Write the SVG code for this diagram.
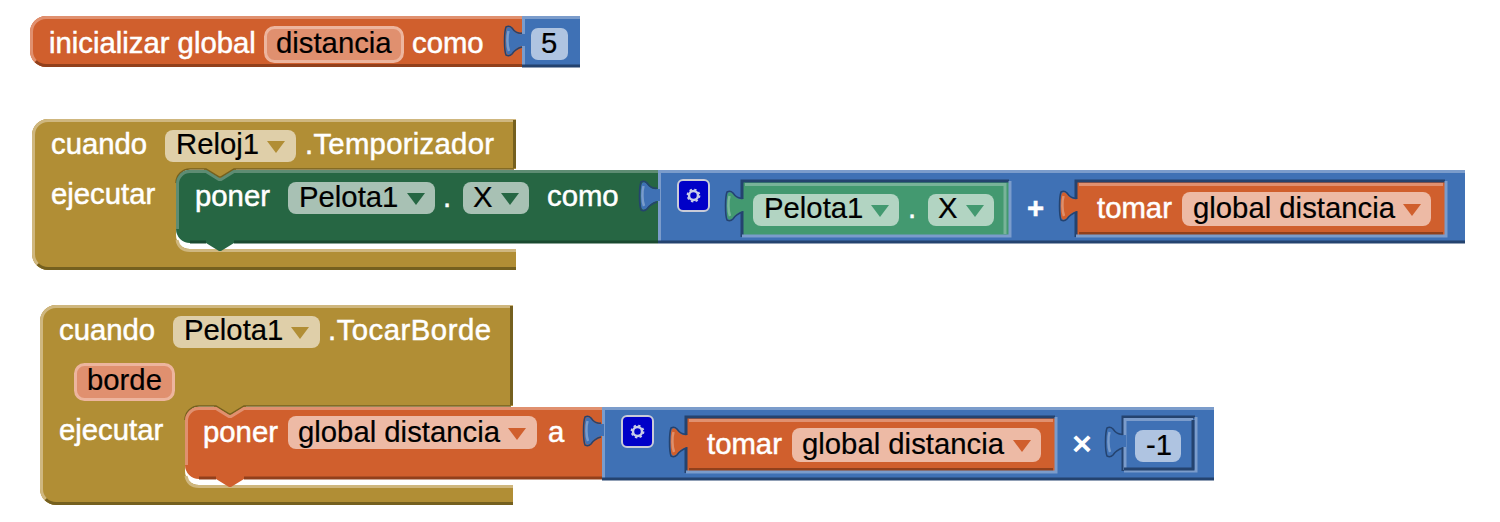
<svg xmlns="http://www.w3.org/2000/svg" xmlns:xlink="http://www.w3.org/1999/xlink" width="1500" height="522" viewBox="0 0 1500 522">
<style>
text{font-family:"Liberation Sans",Arial,sans-serif;font-size:29.3px}
.w{fill:#fff;stroke:#fff;stroke-width:.5}.k{fill:#000;stroke:#000;stroke-width:.2}
.hl{fill:none;stroke-width:3}
.o{fill:#D05F2D}.ol{stroke:#E0906F}.od{stroke:#91401C}
.b{fill:#3F71B5}.bl{stroke:#7B9CCB}.bd{stroke:#24436F}
.g{fill:#B18E35}.gl{stroke:#CFB77F}.gd{stroke:#75601F}
.n{fill:#266643}.nl{stroke:#5E8C73}.nd{stroke:#1A4A30}
.m{fill:#439970}.ml{stroke:#78B399}.md{stroke:#2A6A4B}
.fo{fill:#EDBAA5}.fn{fill:#A8C1B4}.fm{fill:#B2D4C2}.fg{fill:#DFCFA9}.fb{fill:#AFC4E1}
.fv{fill:#E0906F;stroke:#EDB59E;stroke-width:3}
.ao{fill:#D05F2D}.an{fill:#266643}.am{fill:#439970}.ag{fill:#B18E35}
.ed{fill:none;stroke-width:1.500}
</style>
<defs>
<g id="tab">
<path d="M3,7H0C-4,8 -8,5 -10,2C-12,0 -14,0 -15,1C-17,5 -17,23 -15,27C-14,28 -12,28 -10,26C-8,23 -4,20 0,19H3Z"/>
<path d="M0,6C-4,7 -8,4 -10,1C-12,-1 -14,-1 -16,0C-18,5 -18,23 -16,28C-14,29 -12,29 -10,27C-8,24 -4,21 0,20" fill="none" stroke="#24436F" stroke-width="1.500"/>
<path d="M-13.500,4C-15,9 -15,19 -13,24" fill="none" stroke="#fff" stroke-opacity=".3" stroke-width="2.500"/>
</g>
<path id="arrow" d="M0,0H18L9,12Z"/>
<g id="gear">
<rect x="1" y="1" width="31" height="31" rx="5" fill="#0000C8" stroke="#C9CBD8" stroke-width="2"/>
<circle cx="16.500" cy="16.500" r="4.500" fill="none" stroke="#C9CDE8" stroke-width="2.500"/>
<circle cx="16.500" cy="16.500" r="6" fill="none" stroke="#C9CDE8" stroke-width="1.800" stroke-dasharray="2.360 2.350"/>
</g>
</defs>

<g id="init-global">
<path class="o" d="M46,16H522V67H46a16,16 0 0 1 -16,-16V32a16,16 0 0 1 16,-16Z"/>
<path class="hl ol" d="M35.750,61.250A14.500,14.500 0 0 1 31.500,51V32a14.500,14.500 0 0 1 14.500,-14.500H522"/>
<path class="hl od" d="M35.750,61.250A14.500,14.500 0 0 0 46,65.500H522"/>
<rect class="b" x="522" y="16" width="58" height="51"/>
<path class="hl bl" d="M522,17.500H580"/><path class="hl bl" d="M523.500,17V66"/>
<path class="hl bd" d="M522,66H580"/>
<use xlink:href="#tab" href="#tab" x="522" y="27" class="b"/>
<rect class="fv" x="265.500" y="27.500" width="137" height="34" rx="9"/>
<rect class="fb" x="531" y="28" width="37" height="32" rx="7"/>
<text class="w" x="49" y="53">inicializar global</text>
<text class="k" x="276" y="53">distancia</text>
<text class="w" x="412" y="53">como</text>
<text class="k" x="541" y="53">5</text>
</g>

<g id="cuando-reloj">
<path class="g" d="M48,119H516V169H190a14,14 0 0 0 -14,14V235a14,14 0 0 0 14,14H516V270H48a16,16 0 0 1 -16,-16V135a16,16 0 0 1 16,-16Z"/>
<rect class="g" x="204" y="167" width="32" height="13"/>
<path class="hl gl" d="M37.750,264.250A14.500,14.500 0 0 1 33.500,254V135a14.500,14.500 0 0 1 14.500,-14.500H516"/>
<path class="hl gl" d="M177,240Q179,250.500 190,250.500H516"/>
<path class="hl gd" d="M37.750,264.250A14.500,14.500 0 0 0 48,268.500H516"/>
<path class="hl gd" d="M514.500,120V168"/>
<path class="ed gd" d="M176,183a14,14 0 0 1 14,-14H206L219,177H221L234,169H514"/>
<rect class="fg" x="165" y="130" width="131" height="32" rx="8"/>
<use xlink:href="#arrow" href="#arrow" x="267" y="141" class="ag"/>
<text class="w" x="51" y="154">cuando</text>
<text class="k" x="176" y="154">Reloj1</text>
<text class="w" x="305" y="154" textLength="189">.Temporizador</text>
<text class="w" x="51" y="204">ejecutar</text>
</g>

<g id="poner-pelota">
<path class="n" d="M190,170H206L219,178H221L234,170H658V243H234L221,251H219L206,243H190a14,14 0 0 1 -14,-14V184a14,14 0 0 1 14,-14Z"/>
<path class="hl nl" d="M177.500,229V184a12.500,12.500 0 0 1 12.500,-12.500H206L219,179.500H221L234,171.500H658"/>
<path class="hl nd" d="M190,242H206M234,242H658"/>
<rect class="fn" x="288" y="182" width="147" height="32" rx="8"/>
<use xlink:href="#arrow" href="#arrow" x="407" y="193" class="an"/>
<rect class="fn" x="463" y="182" width="66" height="32" rx="8"/>
<use xlink:href="#arrow" href="#arrow" x="501" y="193" class="an"/>
<text class="w" x="195" y="206">poner</text>
<text class="k" x="299" y="207">Pelota1</text>
<text class="w" x="443" y="207">.</text>
<text class="k" x="473" y="207">X</text>
<text class="w" x="547" y="206">como</text>
</g>

<g id="suma">
<rect class="b" x="658" y="170" width="807" height="73"/>
<path class="hl bl" d="M658,171.500H1465M659.500,171V242"/>
<path class="hl bd" d="M658,242H1465"/>
<use xlink:href="#tab" href="#tab" x="657" y="182" class="b"/>
<use xlink:href="#gear" href="#gear" x="677" y="179"/>
</g>

<g id="pelota-x">
<rect class="m" x="743" y="181" width="266" height="55"/>
<path class="hl bd" stroke-width="2" d="M742,237V181H1009"/>
<path class="hl ml" d="M745,184.500H1006M1005,183V234"/>
<path class="hl bl" d="M742,236H1010V181"/>
<use xlink:href="#tab" href="#tab" x="743" y="192" class="m"/>
<rect class="fm" x="753" y="194" width="146" height="32" rx="8"/>
<use xlink:href="#arrow" href="#arrow" x="871" y="205" class="am"/>
<rect class="fm" x="928" y="194" width="66" height="32" rx="8"/>
<use xlink:href="#arrow" href="#arrow" x="966" y="205" class="am"/>
<text class="k" x="764" y="218">Pelota1</text>
<text class="w" x="908" y="218">.</text>
<text class="k" x="938" y="218">X</text>
<text class="w" x="1027" y="218" style="font-weight:bold">+</text>
</g>

<g id="tomar-1">
<rect class="o" x="1077" y="181" width="368" height="55"/>
<path class="hl bd" stroke-width="2" d="M1076,237V181H1445"/>
<path class="hl ol" d="M1079,184.500H1443"/>
<path class="hl od" d="M1079,233.500H1443"/>
<path class="hl bl" d="M1076,236H1446V181"/>
<use xlink:href="#tab" href="#tab" x="1077" y="192" class="o"/>
<rect class="fo" x="1182" y="192" width="249" height="34" rx="8"/>
<use xlink:href="#arrow" href="#arrow" x="1403" y="204" class="ao"/>
<text class="w" x="1097" y="218">tomar</text>
<text class="k" x="1193" y="218">global distancia</text>
</g>

<g id="cuando-pelota">
<path class="g" d="M56,305H513V406H199a14,14 0 0 0 -14,14V471a14,14 0 0 0 14,14H513V505H56a16,16 0 0 1 -16,-16V321a16,16 0 0 1 16,-16Z"/>
<rect class="g" x="214" y="404" width="32" height="13"/>
<path class="hl gl" d="M45.750,499.250A14.500,14.500 0 0 1 41.500,489V321a14.500,14.500 0 0 1 14.500,-14.500H513"/>
<path class="hl gl" d="M186,476Q188,486.500 199,486.500H513"/>
<path class="hl gd" d="M45.750,499.250A14.500,14.500 0 0 0 56,503.500H513"/>
<path class="hl gd" d="M511.500,306V405"/>
<path class="ed gd" d="M185,420a14,14 0 0 1 14,-14H216L229,414H231L244,406H511"/>
<rect class="fg" x="173" y="316" width="147" height="32" rx="8"/>
<use xlink:href="#arrow" href="#arrow" x="291" y="327" class="ag"/>
<rect class="fv" x="75.500" y="364.500" width="98" height="35" rx="9"/>
<text class="w" x="59" y="340">cuando</text>
<text class="k" x="184" y="340">Pelota1</text>
<text class="w" x="328" y="340" textLength="163">.TocarBorde</text>
<text class="k" x="87" y="390">borde</text>
<text class="w" x="59" y="440">ejecutar</text>
</g>

<g id="poner-global">
<path class="o" d="M199,407H216L229,415H231L244,407H602V479H244L231,487H229L216,479H199a14,14 0 0 1 -14,-14V421a14,14 0 0 1 14,-14Z"/>
<path class="hl ol" d="M186.500,465V421a12.500,12.500 0 0 1 12.500,-12.500H216L229,416.500H231L244,408.500H602"/>
<path class="hl od" d="M199,478H216M244,478H602"/>
<rect class="fo" x="288" y="416" width="249" height="33" rx="8"/>
<use xlink:href="#arrow" href="#arrow" x="508" y="428" class="ao"/>
<text class="w" x="203" y="442">poner</text>
<text class="k" x="298" y="442">global distancia</text>
<text class="w" x="548" y="442">a</text>
</g>

<g id="producto">
<rect class="b" x="602" y="407" width="612" height="73"/>
<path class="hl bl" d="M602,408.500H1214M603.500,408V479"/>
<path class="hl bd" d="M602,479H1214"/>
<use xlink:href="#tab" href="#tab" x="601" y="417" class="b"/>
<use xlink:href="#gear" href="#gear" x="621" y="415"/>
<text class="w" x="1072" y="455" style="font-size:34px;font-weight:bold;stroke-width:0">×</text>
<path class="hl bd" stroke-width="2" d="M1123,471V417H1195"/>
<path class="hl bl" stroke-width="2.500" d="M1125,470V419.500H1193"/>
<path class="hl bl" d="M1124,471H1196V417"/>
<path class="hl bd" stroke-width="2" d="M1124,469H1193V420"/>
<use xlink:href="#tab" href="#tab" x="1123" y="428" class="b"/>
<rect class="fb" x="1135" y="430" width="46" height="32" rx="8"/>
<text class="k" x="1146" y="455">-1</text>
</g>

<g id="tomar-2">
<rect class="o" x="687" y="417" width="368" height="55"/>
<path class="hl bd" stroke-width="2" d="M686,473V417H1055"/>
<path class="hl ol" d="M689,420.500H1053"/>
<path class="hl od" d="M689,469.500H1053"/>
<path class="hl bl" d="M686,472H1056V417"/>
<use xlink:href="#tab" href="#tab" x="687" y="428" class="o"/>
<rect class="fo" x="792" y="428" width="249" height="34" rx="8"/>
<use xlink:href="#arrow" href="#arrow" x="1013" y="440" class="ao"/>
<text class="w" x="707" y="454">tomar</text>
<text class="k" x="802" y="454">global distancia</text>
</g>
</svg>
